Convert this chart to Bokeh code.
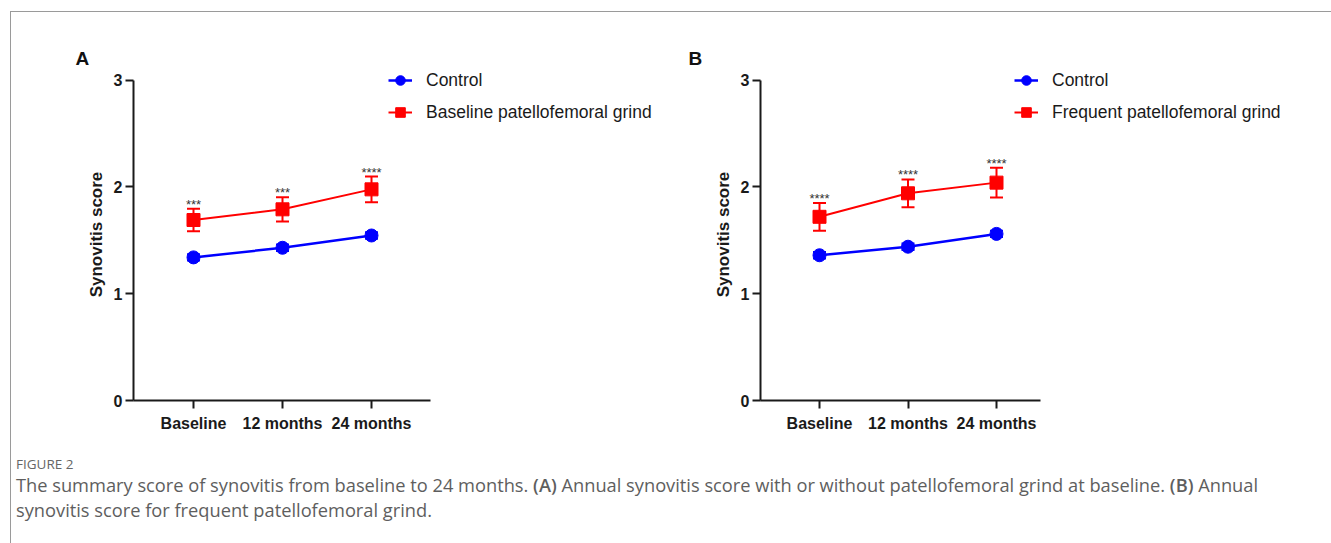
from bokeh.plotting import figure
from bokeh.models import (Range1d, Whisker, TeeHead, ColumnDataSource, Legend,
                          LegendItem, FixedTicker, Div)
from bokeh.layouts import row, column
from bokeh.core.properties import value
from bokeh.embed import file_html
from bokeh.resources import INLINE

# ---------------- data ----------------
categories = ["Baseline", "12 months", "24 months"]

a_control = [1.34, 1.43, 1.545]
a_control_err = [0.03, 0.03, 0.03]
a_grind = [1.69, 1.79, 1.977]
a_grind_err = [0.105, 0.114, 0.12]
a_sig = ["***", "***", "****"]
a_names = ["Control", "Baseline patellofemoral grind"]

b_control = [1.36, 1.44, 1.56]
b_control_err = [0.03, 0.03, 0.03]
b_grind = [1.72, 1.94, 2.04]
b_grind_err = [0.13, 0.13, 0.14]
b_sig = ["****", "****", "****"]
b_names = ["Control", "Frequent patellofemoral grind"]

y_ticks = [0, 1, 2, 3]

BLUE = "#0000ff"
RED = "#ff0000"
INK = "#1a1a1a"
FONT = "Liberation Sans"


def panel(letter, control, control_err, grind, grind_err, sig, names,
          width, left_px, first_px, step_px, right_bound_px, legend_x, title_off):
    H = 428
    top_px = 56
    bottom_px = 40
    unit_y = 106.8
    frame_h = H - bottom_px - top_px
    frame_w = width - left_px
    x0 = -(first_px) / step_px
    x1 = (frame_w - first_px) / step_px
    xb = (right_bound_px - first_px) / step_px
    y1 = frame_h / unit_y

    p = figure(width=width, height=H, x_range=Range1d(x0, x1), y_range=Range1d(0, y1),
               output_backend="svg", toolbar_location=None,
               min_border=0, min_border_left=left_px, min_border_bottom=bottom_px,
               min_border_top=top_px, min_border_right=0)
    p.xgrid.visible = False
    p.ygrid.visible = False
    p.outline_line_color = None
    p.background_fill_color = "white"
    p.border_fill_color = "white"

    p.title.text = letter
    p.title.align = "left"
    p.title.offset = title_off
    p.title.text_font = FONT
    p.title.text_font_style = "bold"
    p.title.text_font_size = "19px"
    p.title.text_color = "#111111"
    try:
        p.title.standoff = 0
    except Exception:
        pass

    xs = list(range(len(categories)))

    for ax in (p.xaxis[0], p.yaxis[0]):
        ax.axis_line_width = 2
        ax.axis_line_color = INK
        ax.major_tick_line_width = 2
        ax.major_tick_line_color = INK
        ax.major_tick_out = 8
        ax.major_tick_in = 0
        ax.minor_tick_out = 0
        ax.minor_tick_in = 0
        ax.major_label_text_font = FONT
        ax.major_label_text_font_style = "bold"
        ax.major_label_text_font_size = "16px"
        ax.major_label_text_color = INK

    p.xaxis.ticker = FixedTicker(ticks=xs)
    p.xaxis.major_label_overrides = {i: c for i, c in enumerate(categories)}
    p.xaxis.bounds = (x0, xb)
    p.xaxis.major_label_standoff = 6

    p.yaxis.ticker = FixedTicker(ticks=y_ticks)
    p.yaxis.bounds = (0, 3)
    p.yaxis.major_label_standoff = 3
    p.yaxis.axis_label = "Synovitis score"
    p.yaxis.axis_label_text_font = FONT
    p.yaxis.axis_label_text_font_style = "bold"
    p.yaxis.axis_label_text_font_size = "17px"
    p.yaxis.axis_label_text_color = INK
    p.yaxis.axis_label_standoff = 5

    src_c = ColumnDataSource(dict(x=xs, y=control,
                                  upper=[v + e for v, e in zip(control, control_err)],
                                  lower=[v - e for v, e in zip(control, control_err)]))
    src_g = ColumnDataSource(dict(x=xs, y=grind,
                                  upper=[v + e for v, e in zip(grind, grind_err)],
                                  lower=[v - e for v, e in zip(grind, grind_err)],
                                  sig=sig))

    items = []
    for src, col, marker, lw, name in ((src_c, BLUE, "circle", 2.5, names[0]),
                                       (src_g, RED, "square", 2, names[1])):
        w = Whisker(base="x", upper="upper", lower="lower", source=src,
                    line_color=col, line_width=2,
                    upper_head=TeeHead(size=13, line_color=col, line_width=2),
                    lower_head=TeeHead(size=13, line_color=col, line_width=2))
        p.add_layout(w)
        ln = p.line("x", "y", source=src, line_color=col, line_width=lw)
        sc = p.scatter("x", "y", source=src, marker=marker, size=13,
                       fill_color=col, line_color=col)
        items.append(LegendItem(label=name, renderers=[ln, sc]))

    p.text(x="x", y="upper", text="sig", source=src_g, text_align="center",
           text_baseline="bottom", y_offset=3, text_font=value(FONT),
           text_font_size="13px", text_color="#333333")

    legend = Legend(items=items, location=(legend_x, 273),
                    glyph_width=24, glyph_height=30, label_height=20, spacing=2,
                    label_standoff=14, padding=0, margin=0,
                    border_line_color=None, background_fill_alpha=0,
                    label_text_font=FONT, label_text_font_size="17.5px",
                    label_text_color=INK)
    p.add_layout(legend)
    return p


pA = panel("A", a_control, a_control_err, a_grind, a_grind_err, a_sig, a_names,
           width=649, left_px=122, first_px=60, step_px=89, right_bound_px=297,
           legend_x=255, title_off=-58)
pB = panel("B", b_control, b_control_err, b_grind, b_grind_err, b_sig, b_names,
           width=663, left_px=100, first_px=59, step_px=88.5, right_bound_px=280,
           legend_x=254, title_off=-72)

caption = Div(width=1312, height=95, text=(
    "<div style=\"font-family:'Open Sans';color:#5e5e5e;padding:11px 0 0 0;\">"
    "<div style='font-size:13.5px;line-height:16px;color:#666666;'>FIGURE 2</div>"
    "<div style='font-size:18.25px;line-height:25px;margin-top:0px;white-space:nowrap;'>"
    "The summary score of synovitis from baseline to 24\u00a0months. "
    "<span style='font-weight:600'>(A)</span> Annual synovitis score with or without "
    "patellofemoral grind at baseline. <span style='font-weight:600'>(B)</span> Annual<br>"
    "synovitis score for frequent patellofemoral grind.</div></div>"))

layout = column(row(pA, pB), caption, margin=(11, 0, 0, 10),
                styles={"border-top": "1px solid #9a9a9a",
                        "border-left": "1px solid #9a9a9a"})

open("out.html", "w").write(file_html(layout, INLINE))
